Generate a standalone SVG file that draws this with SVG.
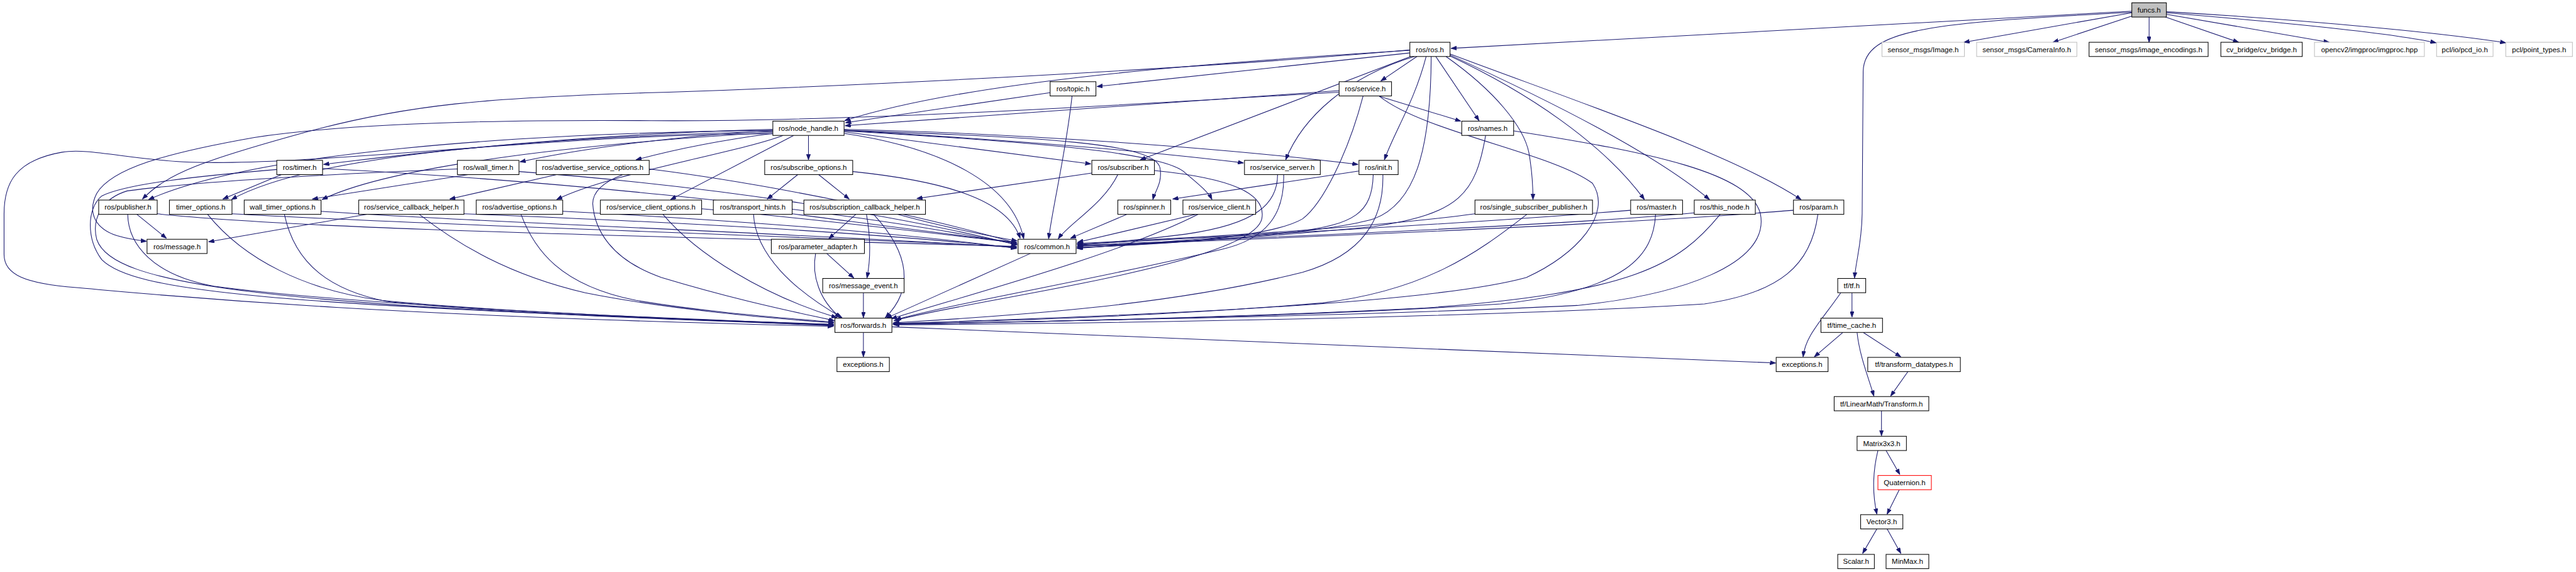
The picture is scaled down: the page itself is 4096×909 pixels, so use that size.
<svg xmlns="http://www.w3.org/2000/svg" width="4096" height="909" viewBox="0 0 4096 909">
<style>
.n rect{fill:#fff;stroke:#000;stroke-width:1.3}
.g rect{fill:#fff;stroke:#bfbfbf;stroke-width:1.3}
.r rect{fill:#fff;stroke:#ff0000;stroke-width:1.3}
.m rect{fill:#bfbfbf;stroke:#000;stroke-width:1.3}
text{font-family:"Liberation Sans",Arial,sans-serif;font-size:14.2px;fill:#000;text-anchor:middle}
.e path{fill:none;stroke:#191970;stroke-width:1.3;marker-end:url(#a)}
</style>
<defs>
<marker id="a" markerUnits="userSpaceOnUse" markerWidth="12" markerHeight="8" refX="11" refY="4" orient="auto"><path d="M0,0 L11,4 L0,8 z" fill="#191970" stroke="#191970" stroke-width="1"/></marker>
</defs>
<rect width="4096" height="909" fill="#fff"/>
<g transform="scale(0.809)">
<g id="edges" class="e">
<path d="M4190,22 L2852,95"/>
<path d="M4190,24 C3800,45 3664,55 3662,140 L3660,420 C3659,480 3648,510 3645,546"/>
<path d="M4190,25 L3860,83"/>
<path d="M4195,30 L4035,83"/>
<path d="M4224,33 L4224,83"/>
<path d="M4255,33 L4400,83"/>
<path d="M4258,28 L4578,83"/>
<path d="M4258,25 C4500,45 4700,65 4788,84"/>
<path d="M4258,23 C4550,40 4800,65 4925,84"/>
<path d="M2771,104 L2156,170"/>
<path d="M2771,99 C2350,125 1900,160 1660,237"/>
<path d="M2771,98 C2300,140 1600,172 1280,182 S800,205 600,260 S330,340 280,391"/>
<path d="M2785,111 L2714,159"/>
<path d="M2822,111 L2907,237"/>
<path d="M2803,111 C2780,200 2740,260 2721,314"/>
<path d="M2842,111 C2940,180 2995,250 3005,300 C3012,340 3013,370 3013,392"/>
<path d="M2850,110 C3000,180 3150,280 3232,392"/>
<path d="M2850,108 C3050,200 3250,300 3360,392"/>
<path d="M2850,106 C3100,200 3400,300 3540,392"/>
<path d="M2775,110 L2241,314"/>
<path d="M2780,111 C2650,150 2560,230 2527,314"/>
<path d="M2813,111 C2812,300 2780,400 2700,430 C2600,460 2300,478 2117,484"/>
<path d="M2064,182 L1662,241"/>
<path d="M2107,189 C2095,300 2070,400 2061,469"/>
<path d="M2632,178 L1661,247"/>
<path d="M2632,181 C2300,200 1700,240 1280,237 C1000,235 700,240 500,270 C330,300 220,330 190,380 C170,420 190,450 230,463 C250,469 270,472 288,474"/>
<path d="M2711,189 L2871,238"/>
<path d="M2679,189 C2650,300 2600,400 2560,430 C2500,465 2300,480 2117,486"/>
<path d="M2711,189 C2800,260 3050,300 3130,360 C3170,420 3100,500 3000,545 C2800,600 2200,620 1755,636"/>
<path d="M1519,254 C1200,262 900,290 636,323"/>
<path d="M1519,257 C1350,265 1150,290 1022,318"/>
<path d="M1519,262 C1420,275 1320,295 1250,314"/>
<path d="M1519,256 C1000,262 500,300 292,392"/>
<path d="M1519,258 C1000,272 600,310 455,392"/>
<path d="M1519,260 C1100,285 760,330 633,392"/>
<path d="M1539,266 C1450,300 1200,340 1094,392"/>
<path d="M1560,266 L1318,392"/>
<path d="M1589,266 L1589,314"/>
<path d="M1659,259 L2144,322"/>
<path d="M1659,256 C1900,270 2200,290 2444,320"/>
<path d="M1659,254 C2000,262 2400,290 2669,323"/>
<path d="M1659,256 C2050,270 2270,280 2280,330 C2285,360 2270,375 2266,392"/>
<path d="M1659,257 C2050,280 2290,300 2330,340 C2360,365 2375,378 2382,392"/>
<path d="M1659,262 C1850,290 1990,360 2012,469"/>
<path d="M1519,263 C1100,262 600,330 360,318 C250,312 170,290 122,299 C30,315 8,360 8,420 L8,500 C8,540 50,557 150,565 C300,578 700,620 1638,641"/>
<path d="M2920,266 C2900,380 2870,420 2700,445 C2450,470 2200,482 2117,487"/>
<path d="M2975,257 C3250,300 3440,340 3460,420 C3480,520 3300,580 3100,600 C2700,620 2100,630 1755,637"/>
<path d="M2671,336 L2305,391"/>
<path d="M2699,343 C2697,420 2660,440 2550,455 C2350,470 2200,482 2117,488"/>
<path d="M2718,343 C2720,430 2680,500 2560,535 C2300,600 2000,620 1756,634"/>
<path d="M2146,340 L1802,390"/>
<path d="M2197,343 C2170,400 2100,440 2080,469"/>
<path d="M2269,335 C2420,350 2490,380 2480,430 C2460,520 1900,590 1757,630"/>
<path d="M2511,343 C2511,400 2470,440 2330,460 C2250,470 2170,478 2118,481"/>
<path d="M2523,343 C2525,420 2490,470 2400,490 C2150,550 1900,590 1760,628"/>
<path d="M1094,343 L884,391"/>
<path d="M1276,332 C1500,360 1800,420 1999,478"/>
<path d="M1224,343 C1180,360 1165,380 1165,400 C1168,450 1200,510 1300,545 C1450,590 1550,610 1640,630"/>
<path d="M553,343 L438,391"/>
<path d="M634,331 C1000,350 1600,400 1999,480"/>
<path d="M544,333 C400,345 250,360 200,385 C170,410 170,470 200,510 C260,570 500,600 1639,637"/>
<path d="M920,343 L614,391"/>
<path d="M1020,337 C1400,365 1750,420 1999,481"/>
<path d="M899,332 C700,340 400,355 250,375 C200,390 180,430 190,470 C220,560 500,600 1639,639"/>
<path d="M269,421 L327,468"/>
<path d="M251,421 C252,480 300,540 420,562 C700,600 1300,625 1639,640"/>
<path d="M309,420 C600,450 1200,462 1998,484"/>
<path d="M456,420 C900,445 1500,460 1998,485"/>
<path d="M408,421 C480,510 600,570 750,590 C1000,615 1400,628 1639,638"/>
<path d="M631,415 C900,435 1500,455 1998,486"/>
<path d="M559,421 C580,520 650,570 760,592 C1000,618 1400,628 1639,639"/>
<path d="M727,420 L410,475"/>
<path d="M912,420 C1300,435 1700,455 1998,487"/>
<path d="M824,421 C900,480 1000,540 1150,575 C1300,605 1500,625 1639,634"/>
<path d="M1106,415 C1400,430 1750,455 1998,488"/>
<path d="M1024,421 C1050,490 1100,560 1250,590 C1400,615 1550,625 1639,633"/>
<path d="M1379,410 C1600,430 1850,460 1998,477"/>
<path d="M1303,421 C1370,500 1500,580 1645,624"/>
<path d="M1557,420 C1750,445 1900,465 1998,476"/>
<path d="M1481,421 C1485,500 1560,570 1655,624"/>
<path d="M1568,343 L1508,391"/>
<path d="M1609,343 L1669,391"/>
<path d="M1676,337 C1850,355 1980,390 2005,468"/>
<path d="M1682,421 L1629,469"/>
<path d="M1703,421 C1712,470 1711,510 1704,546"/>
<path d="M1717,421 C1790,500 1795,570 1740,624"/>
<path d="M1764,421 C1850,445 1950,465 1999,473"/>
<path d="M2215,421 L2104,468"/>
<path d="M2351,421 L2118,476"/>
<path d="M2355,421 C2200,500 1900,580 1752,626"/>
<path d="M2899,420 C2750,440 2500,460 2117,478"/>
<path d="M3001,421 C2900,500 2800,570 2600,595 C2300,620 2000,630 1756,635"/>
<path d="M3205,413 C3000,430 2600,455 2117,480"/>
<path d="M3254,421 C3250,500 3200,570 2950,597 C2600,620 2100,632 1757,636"/>
<path d="M3330,418 C3100,440 2600,462 2118,482"/>
<path d="M3381,421 C3300,520 3210,575 2800,605 C2400,625 2000,633 1757,637"/>
<path d="M3525,413 C3200,440 2600,465 2118,483"/>
<path d="M3573,421 C3560,520 3500,575 3350,597 C2900,625 2100,636 1757,638"/>
<path d="M1625,498 L1678,546"/>
<path d="M1603,498 C1595,540 1610,590 1652,624"/>
<path d="M2025,498 L1742,625"/>
<path d="M1697,575 L1697,624"/>
<path d="M1697,653 L1697,701"/>
<path d="M1753,642 L3490,713"/>
<path d="M3618,575 C3580,630 3548,660 3544,701"/>
<path d="M3640,575 L3640,623"/>
<path d="M3622,653 L3566,701"/>
<path d="M3662,653 L3736,701"/>
<path d="M3650,653 C3655,700 3672,740 3683,778"/>
<path d="M3750,730 L3716,778"/>
<path d="M3698,807 L3698,856"/>
<path d="M3691,885 C3680,930 3680,970 3689,1010"/>
<path d="M3707,885 L3734,932"/>
<path d="M3733,962 L3709,1010"/>
<path d="M3689,1039 L3661,1087"/>
<path d="M3709,1039 L3736,1087"/>
</g>
<g id="funcs_h" class="m"><rect x="4190" y="5.5" width="68" height="28"/><text x="4224" y="24.5">funcs.h</text></g>
<g id="ros_ros_h" class="n"><rect x="2771" y="83" width="79" height="28"/><text x="2810.5" y="102">ros/ros.h</text></g>
<g id="sensor_msgs_Image_h" class="g"><rect x="3699" y="83" width="162" height="28"/><text x="3780" y="102">sensor_msgs/Image.h</text></g>
<g id="sensor_msgs_CameraInfo_h" class="g"><rect x="3885" y="83" width="197" height="28"/><text x="3983.5" y="102">sensor_msgs/CameraInfo.h</text></g>
<g id="sensor_msgs_image_encodings_h" class="n"><rect x="4106" y="83" width="234" height="28"/><text x="4223" y="102">sensor_msgs/image_encodings.h</text></g>
<g id="cv_bridge_h" class="n"><rect x="4365" y="83" width="160" height="28"/><text x="4445" y="102">cv_bridge/cv_bridge.h</text></g>
<g id="imgproc_hpp" class="g"><rect x="4549" y="83" width="216" height="28"/><text x="4657" y="102">opencv2/imgproc/imgproc.hpp</text></g>
<g id="pcd_io_h" class="g"><rect x="4789" y="83" width="111" height="28"/><text x="4844.5" y="102">pcl/io/pcd_io.h</text></g>
<g id="point_types_h" class="g"><rect x="4925" y="83" width="131" height="28"/><text x="4990.5" y="102">pcl/point_types.h</text></g>
<g id="ros_topic_h" class="n"><rect x="2064" y="160.5" width="90" height="28"/><text x="2109" y="179.5">ros/topic.h</text></g>
<g id="ros_service_h" class="n"><rect x="2632" y="160.5" width="103" height="28"/><text x="2683.5" y="179.5">ros/service.h</text></g>
<g id="ros_node_handle_h" class="n"><rect x="1519" y="238" width="140" height="28"/><text x="1589" y="257">ros/node_handle.h</text></g>
<g id="ros_names_h" class="n"><rect x="2873" y="238" width="102" height="28"/><text x="2924" y="257">ros/names.h</text></g>
<g id="ros_timer_h" class="n"><rect x="544" y="315" width="90" height="28"/><text x="589" y="334">ros/timer.h</text></g>
<g id="ros_wall_timer_h" class="n"><rect x="899" y="315" width="121" height="28"/><text x="959.5" y="334">ros/wall_timer.h</text></g>
<g id="ros_advertise_service_options_h" class="n"><rect x="1054" y="315" width="222" height="28"/><text x="1165" y="334">ros/advertise_service_options.h</text></g>
<g id="ros_subscribe_options_h" class="n"><rect x="1503" y="315" width="173" height="28"/><text x="1589.5" y="334">ros/subscribe_options.h</text></g>
<g id="ros_subscriber_h" class="n"><rect x="2146" y="315" width="123" height="28"/><text x="2207.5" y="334">ros/subscriber.h</text></g>
<g id="ros_service_server_h" class="n"><rect x="2446" y="315" width="149" height="28"/><text x="2520.5" y="334">ros/service_server.h</text></g>
<g id="ros_init_h" class="n"><rect x="2671" y="315" width="77" height="28"/><text x="2709.5" y="334">ros/init.h</text></g>
<g id="ros_publisher_h" class="n"><rect x="194" y="393" width="115" height="28"/><text x="251.5" y="412">ros/publisher.h</text></g>
<g id="timer_options_h" class="n"><rect x="333" y="393" width="123" height="28"/><text x="394.5" y="412">timer_options.h</text></g>
<g id="wall_timer_options_h" class="n"><rect x="480" y="393" width="151" height="28"/><text x="555.5" y="412">wall_timer_options.h</text></g>
<g id="ros_service_callback_helper_h" class="n"><rect x="705" y="393" width="207" height="28"/><text x="808.5" y="412">ros/service_callback_helper.h</text></g>
<g id="ros_advertise_options_h" class="n"><rect x="936" y="393" width="170" height="28"/><text x="1021" y="412">ros/advertise_options.h</text></g>
<g id="ros_service_client_options_h" class="n"><rect x="1180" y="393" width="199" height="28"/><text x="1279.5" y="412">ros/service_client_options.h</text></g>
<g id="ros_transport_hints_h" class="n"><rect x="1402" y="393" width="155" height="28"/><text x="1479.5" y="412">ros/transport_hints.h</text></g>
<g id="ros_subscription_callback_helper_h" class="n"><rect x="1580" y="393" width="239" height="28"/><text x="1699.5" y="412">ros/subscription_callback_helper.h</text></g>
<g id="ros_spinner_h" class="n"><rect x="2197" y="393" width="104" height="28"/><text x="2249" y="412">ros/spinner.h</text></g>
<g id="ros_service_client_h" class="n"><rect x="2325" y="393" width="143" height="28"/><text x="2396.5" y="412">ros/service_client.h</text></g>
<g id="ros_single_subscriber_publisher_h" class="n"><rect x="2899" y="393" width="231" height="28"/><text x="3014.5" y="412">ros/single_subscriber_publisher.h</text></g>
<g id="ros_master_h" class="n"><rect x="3205" y="393" width="102" height="28"/><text x="3256" y="412">ros/master.h</text></g>
<g id="ros_this_node_h" class="n"><rect x="3330" y="393" width="120" height="28"/><text x="3390" y="412">ros/this_node.h</text></g>
<g id="ros_param_h" class="n"><rect x="3525" y="393" width="99" height="28"/><text x="3574.5" y="412">ros/param.h</text></g>
<g id="ros_message_h" class="n"><rect x="289" y="470" width="118" height="28"/><text x="348" y="489">ros/message.h</text></g>
<g id="ros_parameter_adapter_h" class="n"><rect x="1516" y="470" width="183" height="28"/><text x="1607.5" y="489">ros/parameter_adapter.h</text></g>
<g id="ros_common_h" class="n"><rect x="2001" y="470" width="114" height="28"/><text x="2058" y="489">ros/common.h</text></g>
<g id="ros_message_event_h" class="n"><rect x="1617" y="547" width="160" height="28"/><text x="1697" y="566">ros/message_event.h</text></g>
<g id="tf_tf_h" class="n"><rect x="3612" y="547" width="55" height="28"/><text x="3639.5" y="566">tf/tf.h</text></g>
<g id="ros_forwards_h" class="n"><rect x="1641" y="625" width="112" height="28"/><text x="1697" y="644">ros/forwards.h</text></g>
<g id="tf_time_cache_h" class="n"><rect x="3579" y="625" width="121" height="28"/><text x="3639.5" y="644">tf/time_cache.h</text></g>
<g id="exceptions_h_ros" class="n"><rect x="1645" y="702" width="103" height="28"/><text x="1696.5" y="721">exceptions.h</text></g>
<g id="exceptions_h_tf" class="n"><rect x="3491" y="702" width="102" height="28"/><text x="3542" y="721">exceptions.h</text></g>
<g id="tf_transform_datatypes_h" class="n"><rect x="3671" y="702" width="182" height="28"/><text x="3762" y="721">tf/transform_datatypes.h</text></g>
<g id="tf_LinearMath_Transform_h" class="n"><rect x="3605" y="779" width="186" height="28"/><text x="3698" y="798">tf/LinearMath/Transform.h</text></g>
<g id="Matrix3x3_h" class="n"><rect x="3650" y="857" width="97" height="28"/><text x="3698.5" y="876">Matrix3x3.h</text></g>
<g id="Quaternion_h" class="r"><rect x="3691" y="934" width="105" height="28"/><text x="3743.5" y="953">Quaternion.h</text></g>
<g id="Vector3_h" class="n"><rect x="3657" y="1011" width="83" height="28"/><text x="3698.5" y="1030">Vector3.h</text></g>
<g id="Scalar_h" class="n"><rect x="3612" y="1089" width="72" height="28"/><text x="3648" y="1108">Scalar.h</text></g>
<g id="MinMax_h" class="n"><rect x="3707" y="1089" width="84" height="28"/><text x="3749" y="1108">MinMax.h</text></g>
</g>
</svg>
